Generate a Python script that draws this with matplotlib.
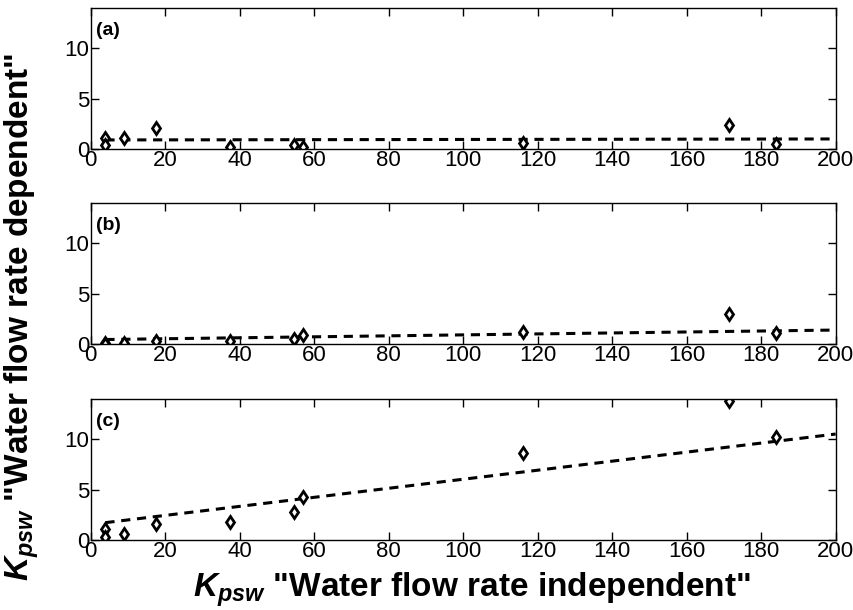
import numpy as np
import matplotlib
matplotlib.use('Agg')
import matplotlib.pyplot as plt

plt.rcParams['font.family'] = ['Liberation Sans', 'DejaVu Sans']
plt.rcParams['mathtext.fontset'] = 'custom'
plt.rcParams['mathtext.it'] = 'Liberation Sans:bold:italic'
plt.rcParams['mathtext.rm'] = 'Liberation Sans:bold'

# data
k_indep = [4, 4, 9, 17.5, 37.5, 54.5, 57, 116, 171.5, 184]
k_dep_a = [1.1, 0.35, 1.1, 2.05, 0.25, 0.35, 0.2, 0.55, 2.4, 0.5]
k_dep_b = [0.15, 0.0, 0.1, 0.35, 0.3, 0.5, 0.9, 1.2, 3.0, 1.05]
k_dep_c = [1.1, 0.25, 0.55, 1.6, 1.75, 2.75, 4.3, 8.6, 13.8, 10.2]
# fitted lines (slope, intercept)
fit_a = (0.0005, 0.9)
fit_b = (0.0048, 0.43)
fit_c = (0.0449, 1.54)
labels = ['(a)', '(b)', '(c)']

fig = plt.figure(figsize=(8.54, 6.10), dpi=100)
bottoms = [0.7557, 0.436, 0.1148]
series = [k_dep_a, k_dep_b, k_dep_c]
fits = [fit_a, fit_b, fit_c]

xl = np.array([min(k_indep), 200])
for bot, ys, fit, lab in zip(bottoms, series, fits, labels):
    ax = fig.add_axes([0.106, bot, 0.8725, 0.2311])
    ax.plot(xl, fit[0] * xl + fit[1], color='black', lw=2.2, dashes=(3, 2.2))
    ax.plot(k_indep, ys, linestyle='none', marker='d', markersize=6.5,
            markerfacecolor='white', markeredgecolor='black', markeredgewidth=2)
    ax.set_xlim(0, 200)
    ax.set_ylim(0, 14)
    ax.set_xticks(range(0, 201, 20))
    ax.set_yticks([0, 5, 10])
    ax.tick_params(direction='in', top=True, right=True, length=6, width=1,
                   labelsize=16, pad=1)
    for s in ax.spines.values():
        s.set_linewidth(1)
    ax.text(0.008, 0.9, lab, transform=ax.transAxes, fontsize=14,
            fontweight='bold', va='top', ha='left')

fig.text(0.553, 0.033, r'$K_{psw}$ "Water flow rate independent"', ha='center',
         va='center', fontsize=24, fontweight='bold')
fig.text(0.026, 0.48, r'$K_{psw}$ "Water flow rate dependent"', ha='center',
         va='center', fontsize=24, fontweight='bold', rotation=90)

fig.savefig('out.png', dpi=100)
